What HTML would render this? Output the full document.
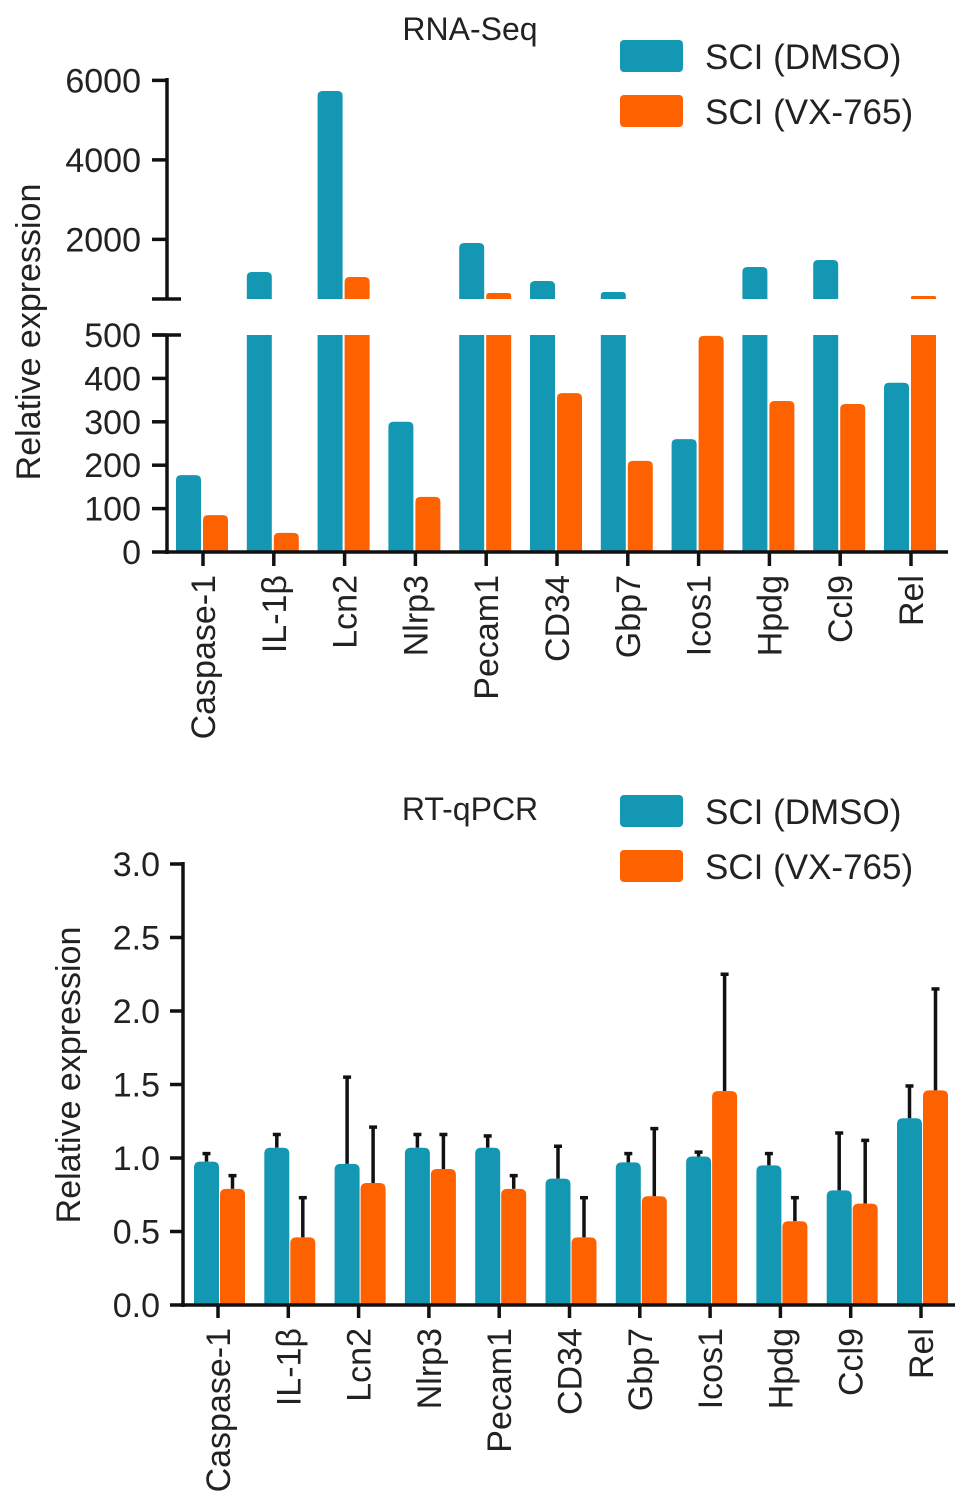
<!DOCTYPE html>
<html><head><meta charset="utf-8"><style>
body{margin:0;background:#fff}
svg{display:block;font-family:"Liberation Sans",sans-serif}
</style></head><body>
<svg id="chart" width="969" height="1510" viewBox="0 0 969 1510"></svg>
<script>
const categories=["Caspase-1","IL-1β","Lcn2","Nlrp3","Pecam1","CD34","Gbp7","Icos1","Hpdg","Ccl9","Rel"];
const rnaDmso=[177,1180,5733,300,1909,953,676,260,1305,1480,390];
const rnaVx=[85,44,1053,127,651,366,210,498,348,341,575];
const pcrDmso=[0.975,1.07,0.96,1.07,1.07,0.86,0.97,1.01,0.95,0.78,1.27];
const pcrDmsoErr=[1.03,1.16,1.55,1.16,1.15,1.08,1.03,1.04,1.03,1.17,1.49];
const pcrVx=[0.79,0.46,0.83,0.925,0.79,0.46,0.74,1.455,0.57,0.69,1.46];
const pcrVxErr=[0.88,0.73,1.21,1.16,0.88,0.73,1.2,2.25,0.73,1.12,2.15];
const rnaTicksLow=[0,100,200,300,400,500];
const rnaTicksHigh=[2000,4000,6000];
const pcrTicks=["0.0","0.5","1.0","1.5","2.0","2.5","3.0"];

const TEAL="#1497b2",ORANGE="#fd6100";
const FS=34;
const svg=document.getElementById('chart');
const NS="http://www.w3.org/2000/svg";
function el(tag,attrs,parent){const e=document.createElementNS(NS,tag);for(const k in attrs)e.setAttribute(k,attrs[k]);(parent||svg).appendChild(e);return e;}
function txt(s,attrs,parent){const t=el('text',attrs,parent);t.textContent=s;return t;}
function barPath(x,w,yTop,yBot,r){r=Math.min(r,(yBot-yTop)/2,w/2);if(r<0)r=0;
 return `M${x},${yBot}V${yTop+r}Q${x},${yTop} ${x+r},${yTop}H${x+w-r}Q${x+w},${yTop} ${x+w},${yTop+r}V${yBot}Z`;}

// ---------- Top chart (RNA-Seq) ----------
const topX=i=>203+i*70.8;
const yLow=v=>552-v*0.434;
const yHigh=v=>299-(v-500)*79.5/2000;
const gTop=el('g',{});


const t1=txt("RNA-Seq",{x:470,y:40,'font-size':32,'text-anchor':'middle',fill:'#222'},gTop);


function drawBarTop(i,v,color,xOff,name){
  const x=topX(i)+xOff,w=25;
  const g=el('g',{fill:color},gTop);
  
  
  if(v<=500){el('path',{d:barPath(x,w,yLow(v),552,5)},g);}
  else{el('path',{d:barPath(x,w,yLow(500),552,0)},g);el('path',{d:barPath(x,w,yHigh(v),299,5)},g);}
}
for(let i=0;i<categories.length;i++){
  drawBarTop(i,rnaDmso[i],TEAL,-27,'rna-dmso-bar-'+i);
  drawBarTop(i,rnaVx[i],ORANGE,0,'rna-vx-bar-'+i);
}
const axT=el('g',{stroke:'#111','stroke-width':3.5,fill:'none'},gTop);

el('line',{x1:167,y1:78,x2:167,y2:299},axT);
el('line',{x1:152,y1:299,x2:181,y2:299},axT);
el('line',{x1:167,y1:335,x2:167,y2:554},axT);
el('line',{x1:152,y1:335,x2:181,y2:335},axT);
el('line',{x1:165,y1:552,x2:948,y2:552},axT);
for(const v of rnaTicksHigh){const y=yHigh(v);el('line',{x1:152,y1:y,x2:167,y2:y},axT);
 const t=txt(String(v),{x:141,y:y+12,'font-size':FS,'text-anchor':'end',fill:'#222',stroke:'none'},gTop);
 }
for(const v of rnaTicksLow){const y=yLow(v);el('line',{x1:152,y1:y,x2:167,y2:y},axT);
 const t=txt(String(v),{x:141,y:y+12,'font-size':FS,'text-anchor':'end',fill:'#222',stroke:'none'},gTop);
 }
for(let i=0;i<categories.length;i++){const x=topX(i);el('line',{x1:x,y1:552,x2:x,y2:566},axT);
 const t=txt(categories[i],{x:0,y:0,'font-size':FS,'text-anchor':'end',fill:'#222',stroke:'none',transform:`translate(${x+12},575) rotate(-90)`},gTop);
 }
const yt1=txt("Relative expression",{x:0,y:0,'font-size':FS,'text-anchor':'middle',fill:'#222',transform:'translate(40,332) rotate(-90)'},gTop);


function legend(g,y0,prefix){
  const a=el('rect',{x:620,y:y0,width:63,height:32,rx:4,fill:TEAL},g);
  
  const b=txt("SCI (DMSO)",{x:705,y:y0+29,'font-size':FS+1,fill:'#222'},g);
  
  const c=el('rect',{x:620,y:y0+55,width:63,height:32,rx:4,fill:ORANGE},g);
  
  const d=txt("SCI (VX-765)",{x:705,y:y0+84,'font-size':FS+1,fill:'#222'},g);
  
}
legend(gTop,40,'rna');

// ---------- Bottom chart (RT-qPCR) ----------
const botX=i=>218+i*70.3;
const yP=v=>1305-v*147;
const gB=el('g',{});


const t2=txt("RT-qPCR",{x:470,y:820,'font-size':32,'text-anchor':'middle',fill:'#222'},gB);

legend(gB,795,'pcr');

function drawBarBot(i,v,e,color,xOff,name){
  const x=botX(i)+xOff,w=25;
  const g=el('g',{},gB);
  
  
  el('line',{x1:x+w/2,y1:yP(v),x2:x+w/2,y2:yP(e),stroke:'#111','stroke-width':3.5},g);
  el('line',{x1:x+w/2-4,y1:yP(e),x2:x+w/2+4,y2:yP(e),stroke:'#111','stroke-width':3.5},g);
  el('path',{d:barPath(x,w,yP(v),1305,6),fill:color},g);
}
for(let i=0;i<categories.length;i++){
  drawBarBot(i,pcrDmso[i],pcrDmsoErr[i],TEAL,-24,'pcr-dmso-bar-'+i);
  drawBarBot(i,pcrVx[i],pcrVxErr[i],ORANGE,2,'pcr-vx-bar-'+i);
}
const axB=el('g',{stroke:'#111','stroke-width':3.5,fill:'none'},gB);

el('line',{x1:183,y1:862,x2:183,y2:1307},axB);
el('line',{x1:181,y1:1305,x2:955,y2:1305},axB);
for(const s of pcrTicks){const y=yP(parseFloat(s));el('line',{x1:170,y1:y,x2:183,y2:y},axB);
 const t=txt(s,{x:160,y:y+12,'font-size':FS,'text-anchor':'end',fill:'#222',stroke:'none'},gB);
 }
for(let i=0;i<categories.length;i++){const x=botX(i);el('line',{x1:x,y1:1305,x2:x,y2:1318},axB);
 const t=txt(categories[i],{x:0,y:0,'font-size':FS,'text-anchor':'end',fill:'#222',stroke:'none',transform:`translate(${x+12},1328) rotate(-90)`},gB);
 }
const yt2=txt("Relative expression",{x:0,y:0,'font-size':FS,'text-anchor':'middle',fill:'#222',transform:'translate(80,1075) rotate(-90)'},gB);

</script>
</body></html>
